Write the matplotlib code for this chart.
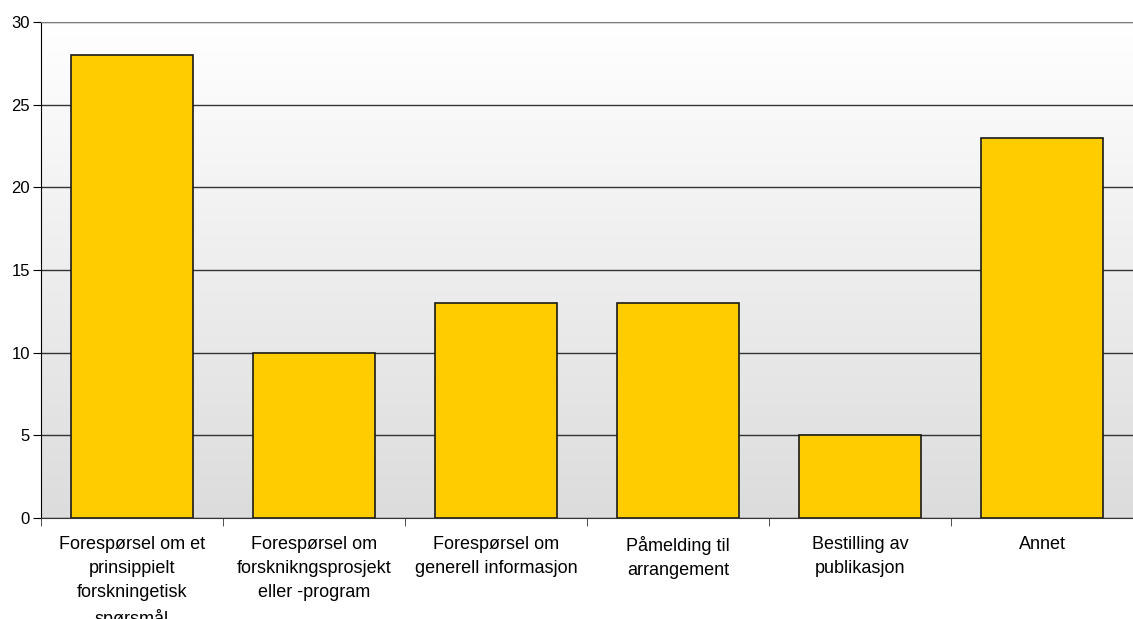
import matplotlib.pyplot as plt
import numpy as np

categories = [
    "Forespørsel om et\nprinsippielt\nforskningetisk\nspørsmål",
    "Forespørsel om\nforsknikngsprosjekt\neller -program",
    "Forespørsel om\ngenerell informasjon",
    "Påmelding til\narrangement",
    "Bestilling av\npublikasjon",
    "Annet",
]
values = [28, 10, 13, 13, 5, 23]
yticks = [0, 5, 10, 15, 20, 25, 30]

plt.rcParams['font.family'] = ['Liberation Sans', 'DejaVu Sans']

fig = plt.figure(figsize=(11.33, 6.19), dpi=100)
ax = fig.add_axes([41 / 1133, 1 - 518 / 619, 1 - 41 / 1133, (518 - 22) / 619])

# gradient background, white at top to light gray at bottom
grad = np.linspace(0, 1, 256).reshape(-1, 1)
ax.imshow(grad, extent=[0, 1, 0, 1], transform=ax.transAxes, aspect='auto',
          cmap=plt.matplotlib.colors.LinearSegmentedColormap.from_list('bg', ['#dcdcdc', '#ffffff']),
          origin='lower', zorder=0)

x = np.arange(len(values))
ax.bar(x, values, width=0.67, color='#ffcc00', edgecolor='#1a1a1a', linewidth=1.2, zorder=3)

ax.set_xlim(-0.5, len(values) - 0.5)
ax.set_ylim(0, 30)
ax.set_yticks(yticks)
ax.tick_params(axis='y', labelsize=12, length=6, direction='out', color='black', pad=2)
ax.yaxis.grid(True, color='#333333', linewidth=1, zorder=1)
ax.set_axisbelow(True)

ax.set_xticks(x)
ax.set_xticklabels(categories, fontsize=13, linespacing=1.53, va='top')
ax.tick_params(axis='x', length=0, pad=13)
ax.set_xticks(np.arange(len(values) + 1) - 0.5, minor=True)
ax.tick_params(axis='x', which='minor', length=6, color='#333333')

ax.spines['right'].set_visible(False)
ax.spines['top'].set_color('#808080')
ax.spines['left'].set_color('black')
ax.spines['bottom'].set_color('#333333')

plt.savefig('out.png', dpi=100)
